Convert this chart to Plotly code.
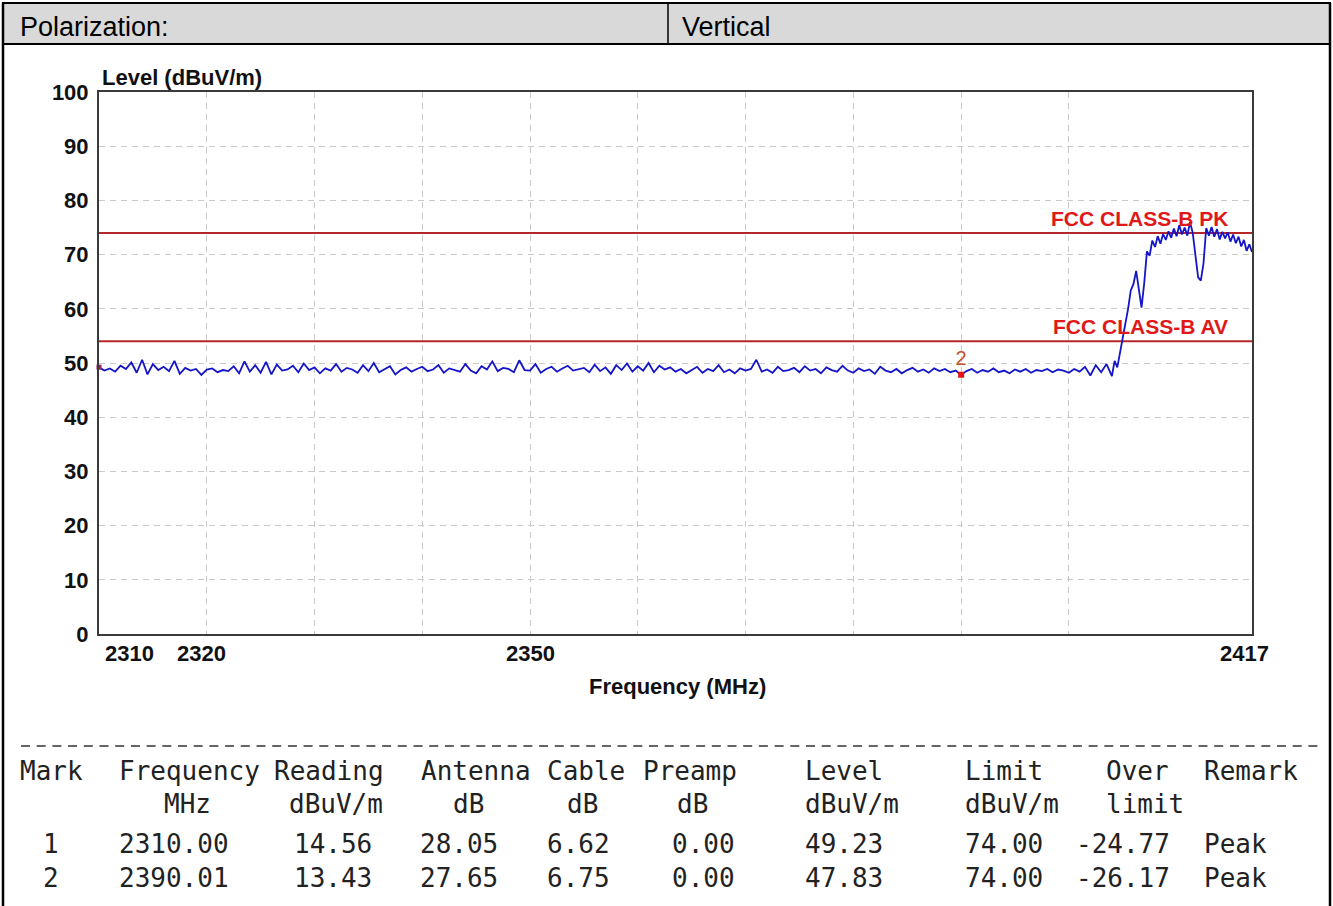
import plotly.graph_objects as go

# ---------------- data ----------------
freq_mhz = [
    2310.0, 2310.5, 2311.0, 2311.5, 2312.0, 2312.5, 2313.0, 2313.5, 2314.0, 2314.5,
    2315.0, 2315.5, 2316.0, 2316.5, 2317.0, 2317.5, 2318.0, 2318.5, 2319.0, 2319.5,
    2320.0, 2320.5, 2321.0, 2321.5, 2322.0, 2322.5, 2323.0, 2323.5, 2324.0, 2324.5,
    2325.0, 2325.5, 2326.0, 2326.5, 2327.0, 2327.5, 2328.0, 2328.5, 2329.0, 2329.5,
    2330.0, 2330.5, 2331.0, 2331.5, 2332.0, 2332.5, 2333.0, 2333.5, 2334.0, 2334.5,
    2335.0, 2335.5, 2336.0, 2336.5, 2337.0, 2337.5, 2338.0, 2338.5, 2339.0, 2339.5,
    2340.0, 2340.5, 2341.0, 2341.5, 2342.0, 2342.5, 2343.0, 2343.5, 2344.0, 2344.5,
    2345.0, 2345.5, 2346.0, 2346.5, 2347.0, 2347.5, 2348.0, 2348.5, 2349.0, 2349.5,
    2350.0, 2350.5, 2351.0, 2351.5, 2352.0, 2352.5, 2353.0, 2353.5, 2354.0, 2354.5,
    2355.0, 2355.5, 2356.0, 2356.5, 2357.0, 2357.5, 2358.0, 2358.5, 2359.0, 2359.5,
    2360.0, 2360.5, 2361.0, 2361.5, 2362.0, 2362.5, 2363.0, 2363.5, 2364.0, 2364.5,
    2365.0, 2365.5, 2366.0, 2366.5, 2367.0, 2367.5, 2368.0, 2368.5, 2369.0, 2369.5,
    2370.0, 2370.5, 2371.0, 2371.5, 2372.0, 2372.5, 2373.0, 2373.5, 2374.0, 2374.5,
    2375.0, 2375.5, 2376.0, 2376.5, 2377.0, 2377.5, 2378.0, 2378.5, 2379.0, 2379.5,
    2380.0, 2380.5, 2381.0, 2381.5, 2382.0, 2382.5, 2383.0, 2383.5, 2384.0, 2384.5,
    2385.0, 2385.5, 2386.0, 2386.5, 2387.0, 2387.5, 2388.0, 2388.5, 2389.0, 2389.5,
    2390.0, 2390.5, 2391.0, 2391.5, 2392.0, 2392.5, 2393.0, 2393.5, 2394.0, 2394.5,
    2395.0, 2395.5, 2396.0, 2396.5, 2397.0, 2397.5, 2398.0, 2398.5, 2399.0, 2399.5,
    2400.0, 2400.5, 2401.0, 2401.5, 2402.0, 2402.5, 2403.0, 2403.5, 2404.0,
    2404.25, 2404.5, 2404.75, 2405.0, 2405.25, 2405.5, 2405.75, 2406.0, 2406.25, 2406.5,
    2406.75, 2407.0, 2407.25, 2407.5, 2407.75, 2408.0, 2408.25, 2408.5, 2408.75, 2409.0,
    2409.25, 2409.5, 2409.75, 2410.0, 2410.25, 2410.5, 2410.75, 2411.0, 2411.25, 2411.5,
    2411.75, 2412.0, 2412.25, 2412.5, 2412.75, 2413.0, 2413.25, 2413.5, 2413.75, 2414.0,
    2414.25, 2414.5, 2414.75, 2415.0, 2415.25, 2415.5, 2415.75, 2416.0, 2416.25, 2416.5,
    2416.75, 2417.0,
]
level_dbuv = [
    49.2, 48.6, 49.0, 48.4, 49.5, 48.9, 50.1, 48.2, 50.6, 47.9,
    49.8, 48.7, 49.3, 48.5, 50.4, 48.0, 49.1, 48.6, 48.9, 47.8,
    48.8, 49.0, 48.3, 48.7, 48.5, 49.4, 48.1, 50.3, 48.4, 49.6,
    48.2, 50.2, 47.9, 49.7, 48.6, 48.8, 49.5, 48.3, 49.9, 48.7,
    49.2, 48.1, 49.0, 48.6, 49.8, 48.4, 49.1, 48.8, 48.2, 49.6,
    48.5, 50.0, 48.3, 48.9, 49.4, 47.9, 48.7, 49.2, 48.4, 48.9,
    49.3, 48.5, 48.8, 49.6, 48.2, 49.0, 48.7, 48.4, 49.8, 48.6,
    48.1, 49.4, 48.8, 50.3, 48.5, 49.1, 48.9, 48.3, 50.5, 48.7,
    48.6, 49.8, 48.2, 48.9, 49.3, 48.4, 49.0, 49.5, 48.6, 48.8,
    49.1, 48.3, 49.7, 48.5, 49.2, 48.0, 49.6, 48.7, 49.9, 48.4,
    49.4, 48.6, 50.0, 48.3, 49.5, 48.8, 49.2, 48.4, 48.9, 48.1,
    48.7, 49.3, 48.2, 48.9, 48.5, 49.6, 48.3, 48.8, 48.1, 49.0,
    48.6, 48.9, 50.6, 48.4, 48.8, 48.2, 49.3, 48.5, 48.7, 49.1,
    48.3, 49.4, 48.6, 48.9, 48.1, 49.2, 48.7, 48.4, 49.5, 48.6,
    48.2, 49.0, 48.5, 48.8, 48.0, 49.3, 48.6, 48.3, 48.9, 48.1,
    48.7, 49.1, 48.4, 48.8, 48.2, 49.0, 48.5, 48.9, 48.3, 48.6,
    47.8, 48.5, 48.9, 48.2, 48.7, 48.4, 49.0, 48.3, 48.6, 48.1,
    48.8, 48.4, 48.9, 48.2, 48.7, 48.5, 48.9, 48.3, 48.8, 48.6,
    48.2, 48.9, 48.4, 49.3, 47.7, 49.6, 48.3, 49.8, 47.6,
    50.4, 49.2, 52.0, 54.2, 57.0, 60.0, 63.4, 64.6, 67.0, 63.6,
    60.2, 64.8, 70.6, 69.8, 72.6, 71.4, 73.4, 72.0, 73.8, 72.7,
    74.3, 73.1, 74.8, 73.4, 75.4, 73.7, 75.0, 73.5, 76.0, 74.0,
    70.2, 65.8, 65.2, 68.4, 74.9, 73.5, 75.1, 73.3, 74.7, 72.8,
    74.2, 73.0, 74.1, 72.4, 73.7, 72.1, 73.3, 71.5, 72.7, 70.7,
    71.9, 70.5,
]

limit_names = ["FCC CLASS-B PK", "FCC CLASS-B AV"]
limit_values = [74, 54]

mark_ids = [1, 2]
mark_freq = [2310.00, 2390.01]
mark_reading = [14.56, 13.43]
mark_antenna = [28.05, 27.65]
mark_cable = [6.62, 6.75]
mark_preamp = [0.00, 0.00]
mark_level = [49.23, 47.83]
mark_limit = [74.00, 74.00]
mark_over = [-24.77, -26.17]
mark_remark = ["Peak", "Peak"]

x_label_vals = [2310, 2320, 2350, 2417]
x_grid_vals = [2320, 2330, 2340, 2350, 2360, 2370, 2380, 2390, 2400]
y_tick_vals = [0, 10, 20, 30, 40, 50, 60, 70, 80, 90, 100]

polarization_label = "Polarization:"
polarization_value = "Vertical"

table_head1 = ["Mark", "Frequency", "Reading", "Antenna", "Cable", "Preamp", "Level", "Limit", "Over", "Remark"]
table_head2 = ["", "MHz", "dBuV/m", "dB", "dB", "dB", "dBuV/m", "dBuV/m", "limit", ""]

# ---------------- layout geometry (pixels) ----------------
W, H = 1333, 906
L, R, T, B = 99, 1252, 92, 634


def PX(X):
    return (X - L) / (R - L)


def PY(Y):
    return (B - Y) / (B - T)


SANS = "Liberation Sans, Arial, sans-serif"
MONO = "DejaVu Sans Mono, monospace"

fig = go.Figure()

# limit lines
for name, val in zip(limit_names, limit_values):
    fig.add_trace(go.Scatter(x=[2310, 2417], y=[val, val], mode="lines",
                             line=dict(color="#b5262b", width=2), hoverinfo="skip"))

# measured trace
fig.add_trace(go.Scatter(x=freq_mhz, y=level_dbuv, mode="lines",
                         line=dict(color="#1414c8", width=1.8)))

# marker 1 (on left edge)
fig.add_trace(go.Scatter(x=[mark_freq[0]], y=[mark_level[0]], mode="markers",
                         marker=dict(color="#a0206a", size=5, symbol="square"),
                         cliponaxis=False))
# marker 2 with label
fig.add_trace(go.Scatter(x=[mark_freq[1]], y=[mark_level[1]], mode="markers+text",
                         marker=dict(color="#e81010", size=6, symbol="square"),
                         text=[str(mark_ids[1])], textposition="top center",
                         textfont=dict(family=SANS, size=20, color="#c8502a")))

annotations = []

# limit labels
for name, val in zip(limit_names, limit_values):
    annotations.append(dict(x=2417, y=val, xref="x", yref="y", text=name, showarrow=False,
                            xanchor="right", yanchor="bottom", xshift=-22, yshift=1,
                            font=dict(family=SANS, size=21, color="#e01818", weight="bold")))

# x tick labels
x_shift = {2310: 4, 2320: -5, 2350: 0, 2417: -8}
x_anchor = {2310: "left", 2320: "center", 2350: "center", 2417: "center"}
for v in x_label_vals:
    annotations.append(dict(x=v, y=PY(653), xref="x", yref="paper", text=str(v), showarrow=False,
                            xanchor=x_anchor[v], yanchor="middle", xshift=x_shift[v],
                            font=dict(family=SANS, size=22, color="#111", weight="bold")))

# axis titles
annotations.append(dict(x=PX(100), y=PY(78), xref="paper", yref="paper", text="Level (dBuV/m)",
                        showarrow=False, xanchor="left", yanchor="middle",
                        font=dict(family=SANS, size=22, color="#111", weight="bold")))
annotations.append(dict(x=PX(677), y=PY(686), xref="paper", yref="paper", text="Frequency (MHz)",
                        showarrow=False, xanchor="center", yanchor="middle",
                        font=dict(family=SANS, size=22, color="#111", weight="bold")))

# header texts
annotations.append(dict(x=PX(18), y=PY(27), xref="paper", yref="paper", text=polarization_label,
                        showarrow=False, xanchor="left", yanchor="middle",
                        font=dict(family=SANS, size=27, color="#000")))
annotations.append(dict(x=PX(680), y=PY(27), xref="paper", yref="paper", text=polarization_value,
                        showarrow=False, xanchor="left", yanchor="middle",
                        font=dict(family=SANS, size=27, color="#000")))

# table
head1_x = [18, 117, 272, 419, 545, 641, 803, 963, 1104, 1202]
head2_x = [18, 162, 287, 451, 565, 675, 803, 963, 1104, 1202]
val_x = [41, 117, 292, 418, 545, 670, 803, 963, 1074, 1202]


def cell(x, y, txt):
    return dict(x=PX(x), y=PY(y), xref="paper", yref="paper", text=txt, showarrow=False,
                xanchor="left", yanchor="middle", font=dict(family=MONO, size=26, color="#222"))


for xx, t in zip(head1_x, table_head1):
    annotations.append(cell(xx, 771, t))
for xx, t in zip(head2_x, table_head2):
    if t:
        annotations.append(cell(xx, 804, t))
row_y = [844, 878]
for i in range(len(mark_ids)):
    vals = [str(mark_ids[i]), f"{mark_freq[i]:.2f}", f"{mark_reading[i]:.2f}",
            f"{mark_antenna[i]:.2f}", f"{mark_cable[i]:.2f}", f"{mark_preamp[i]:.2f}",
            f"{mark_level[i]:.2f}", f"{mark_limit[i]:.2f}", f"{mark_over[i]:.2f}", mark_remark[i]]
    for xx, t in zip(val_x, vals):
        annotations.append(cell(xx, row_y[i], t))

shapes = [
    # header box
    dict(type="rect", xref="paper", yref="paper", x0=PX(3), x1=PX(1330), y0=PY(44), y1=PY(3),
         fillcolor="#d9d9d9", line=dict(color="#000", width=2), layer="below"),
    dict(type="line", xref="paper", yref="paper", x0=PX(668), x1=PX(668), y0=PY(44), y1=PY(3),
         line=dict(color="#000", width=1.5)),
    # outer frame sides
    dict(type="line", xref="paper", yref="paper", x0=PX(3), x1=PX(3), y0=PY(910), y1=PY(3),
         line=dict(color="#000", width=2.5)),
    dict(type="line", xref="paper", yref="paper", x0=PX(1330), x1=PX(1330), y0=PY(910), y1=PY(3),
         line=dict(color="#000", width=2.5)),
    # dashed separator above table
    dict(type="line", xref="paper", yref="paper", x0=PX(21), x1=PX(1318), y0=PY(746), y1=PY(746),
         line=dict(color="#333", width=1.5, dash="9px,6.7px")),
]

fig.update_layout(
    width=W, height=H,
    margin=dict(l=L, r=W - R, t=T, b=H - B, pad=0),
    paper_bgcolor="white", plot_bgcolor="white",
    showlegend=False,
    annotations=annotations,
    shapes=shapes,
    xaxis=dict(range=[2310, 2417], tickvals=x_grid_vals, showticklabels=False, ticks="",
               showgrid=True, gridcolor="#c9c9c9", griddash="6px,5px", gridwidth=1,
               showline=True, linecolor="#3a3a3a", linewidth=2, mirror=True, zeroline=False,
               fixedrange=True),
    yaxis=dict(range=[0, 100], tickvals=y_tick_vals, ticks="", ticklabelstandoff=4,
               tickfont=dict(family=SANS, size=22, color="#111", weight="bold"),
               showgrid=True, gridcolor="#c9c9c9", griddash="6px,5px", gridwidth=1,
               showline=True, linecolor="#3a3a3a", linewidth=2, mirror=True, zeroline=False,
               fixedrange=True),
)

fig.write_html("out.html", config={"displayModeBar": False},
               post_script="document.body.style.margin='0';document.body.style.overflow='hidden';")
